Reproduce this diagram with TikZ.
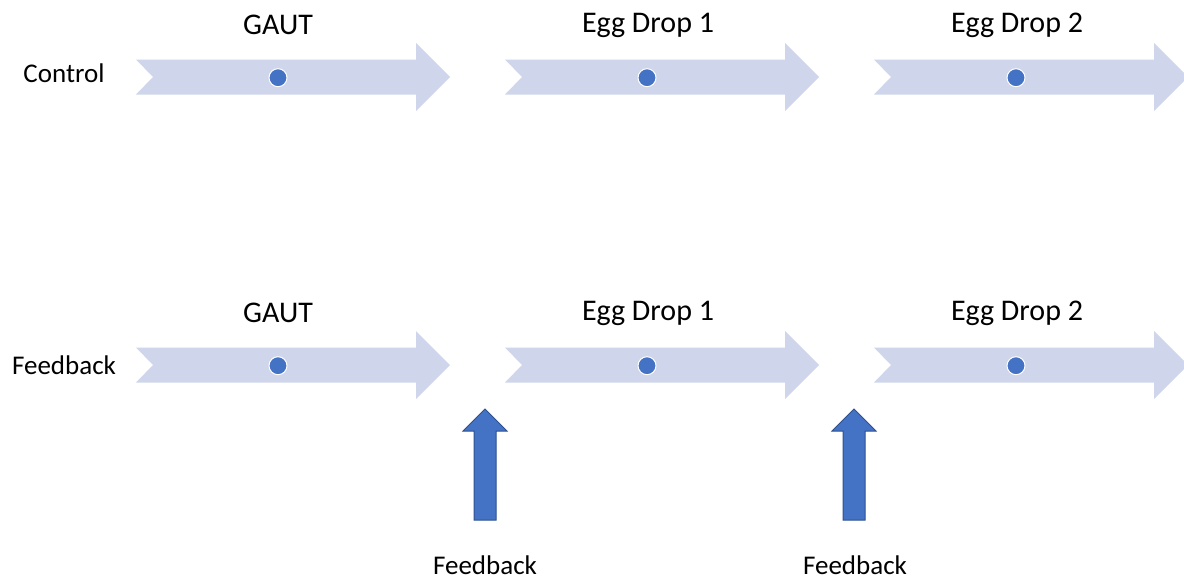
\documentclass[tikz,border=0pt]{standalone}
\usepackage{fontspec}
\setmainfont{Carlito}
\definecolor{chevfill}{HTML}{CFD5EA}
\definecolor{accent}{HTML}{4472C4}
\definecolor{accentdark}{HTML}{2F528F}
\tikzset{
  lbl/.style={font=\fontsize{27}{32}\selectfont, inner sep=0pt, anchor=center},
  ttl/.style={font=\fontsize{30}{36}\selectfont, inner sep=0pt, anchor=center},
  chev/.pic={
    \fill[chevfill] (0,-17.5) -- (280,-17.5) -- (280,-34) -- (314,0) -- (280,34) -- (280,17.5) -- (0,17.5) -- (17,0) -- cycle;
    \fill[accent, draw=white, line width=1pt] (142,0.7) circle (9);
  },
  uparrow/.pic={
    \filldraw[fill=accent, draw=accentdark, line width=1pt] (-11,0) -- (11,0) -- (11,-89) -- (22,-89) -- (0,-111) -- (-22,-89) -- (-11,-89) -- cycle;
  }
}
\begin{document}
\begin{tikzpicture}[x=1pt,y=-1pt]
\useasboundingbox (0,0) rectangle (1184,579);
\clip (0,0) rectangle (1184,579);
% row 1
\pic at (136,77) {chev};
\pic at (505,77) {chev};
\pic at (874,77) {chev};
% row 2
\pic at (136,365) {chev};
\pic at (505,365) {chev};
\pic at (874,365) {chev};
% feedback arrows
\pic at (485,520) {uparrow};
\pic at (854,520) {uparrow};
% labels
\node[ttl] (c1) at (278,25) {GAUT};
\node[ttl] (c2) at (648,25) {Egg Drop 1};
\node[ttl] (c3) at (1017,25) {Egg Drop 2};
\node[ttl] (f1) at (278,313) {GAUT};
\node[ttl] (f2) at (648,313) {Egg Drop 1};
\node[ttl] (f3) at (1017,313) {Egg Drop 2};
\node[lbl] (ctrl) at (64,73) {Control};
\node[lbl] (fb) at (64,365) {Feedback};
\node[lbl] (fb1) at (485,565) {Feedback};
\node[lbl] (fb2) at (855,565) {Feedback};
\end{tikzpicture}
\end{document}
